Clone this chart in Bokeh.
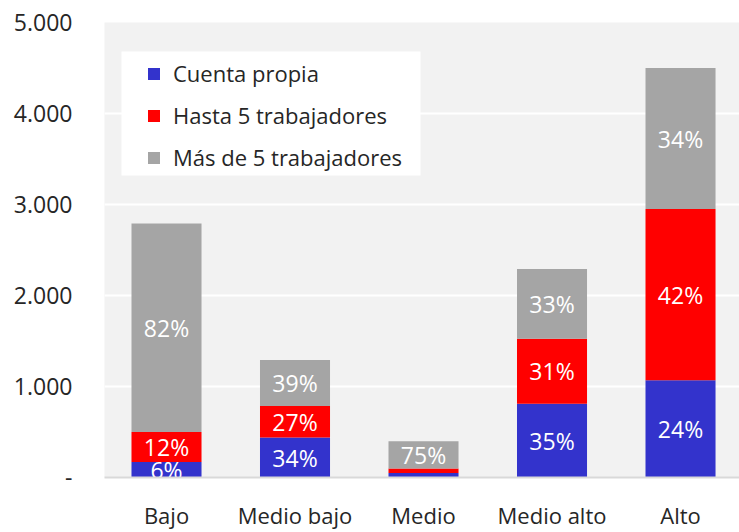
from bokeh.plotting import figure
from bokeh.models import ColumnDataSource, Range1d, FixedTicker, Legend, LegendItem, BoxAnnotation
from bokeh.core.properties import value
from bokeh.embed import file_html
from bokeh.resources import INLINE

# ---- data ----
categories = ["Bajo", "Medio bajo", "Medio", "Medio alto", "Alto"]
series_names = ["Cuenta propia", "Hasta 5 trabajadores", "Más de 5 trabajadores"]
cuenta_propia = [170, 439, 50, 810, 1070]
hasta_5 = [330, 348, 49, 715, 1880]
mas_de_5 = [2290, 503, 298, 765, 1550]
y_ticks = [0, 1000, 2000, 3000, 4000, 5000]
y_tick_labels = ["-", "1.000", "2.000", "3.000", "4.000", "5.000"]

colors = ["#3333CC", "#FF0000", "#A5A5A5"]
keys = ["cp", "h5", "m5"]
series = [cuenta_propia, hasta_5, mas_de_5]
xs = list(range(len(categories)))

src = ColumnDataSource(dict(x=xs, cp=cuenta_propia, h5=hasta_5, m5=mas_de_5))

# percentage labels computed from data
totals = [sum(v) for v in zip(*series)]
lx, ly, lt = [], [], []
for i in xs:
    base = 0
    for s in series:
        v = s[i]
        if v >= 100:
            lx.append(i)
            ly.append(base + v / 2)
            lt.append(f"{round(100 * v / totals[i])}%")
        base += v
lab_src = ColumnDataSource(dict(x=lx, y=ly, t=lt))

p = figure(width=739, height=532, output_backend="svg", toolbar_location=None,
           x_range=Range1d(-0.4825, 4.459), y_range=Range1d(0, 5000),
           min_border_left=104, min_border_right=0, min_border_top=22, min_border_bottom=53)
p.background_fill_color = "#F2F2F2"
p.border_fill_color = "white"
p.outline_line_color = None

rs = p.vbar_stack(keys, x="x", width=0.545, color=colors, source=src, line_color=None)

p.text(x="x", y="y", text="t", source=lab_src, text_color="white",
       text_font=value("Open Sans"), text_font_size="23px",
       text_align="center", text_baseline="middle")

# axes
p.yaxis.ticker = FixedTicker(ticks=y_ticks)
p.yaxis.major_label_overrides = dict(zip(y_ticks, y_tick_labels))
p.yaxis.axis_line_color = None
p.yaxis.major_tick_line_color = None
p.yaxis.minor_tick_line_color = None
p.yaxis.major_label_standoff = 26
p.yaxis.major_label_text_font = "Open Sans"
p.yaxis.major_label_text_font_size = "23px"
p.yaxis.major_label_text_color = "#262626"

p.xaxis.ticker = FixedTicker(ticks=xs)
p.xaxis.major_label_overrides = dict(zip(xs, categories))
p.xaxis.axis_line_color = "#D9D9D9"
p.xaxis.axis_line_width = 2
p.xaxis.major_tick_line_color = None
p.xaxis.minor_tick_line_color = None
p.xaxis.major_label_standoff = 16
p.xaxis.major_label_text_font = "Open Sans"
p.xaxis.major_label_text_font_size = "22px"
p.xaxis.major_label_text_color = "#262626"

p.xgrid.grid_line_color = None
p.ygrid.ticker = FixedTicker(ticks=y_ticks)
p.ygrid.grid_line_color = "white"
p.ygrid.grid_line_width = 2

# legend background box
box = BoxAnnotation(left=17, right=316, top=426, bottom=302,
                    left_units="screen", right_units="screen",
                    top_units="screen", bottom_units="screen",
                    fill_color="white", fill_alpha=1.0, line_color=None)
p.add_layout(box)

legend = Legend(items=[LegendItem(label=n, renderers=[r]) for n, r in zip(series_names, rs)],
                location=(42, 305), padding=0, margin=0,
                background_fill_alpha=0, border_line_color=None,
                glyph_width=15, glyph_height=15, label_standoff=12, spacing=12,
                label_text_font="Open Sans", label_text_font_size="22px",
                label_text_color="#262626")
p.add_layout(legend)

open("out.html", "w").write(file_html(p, INLINE))
